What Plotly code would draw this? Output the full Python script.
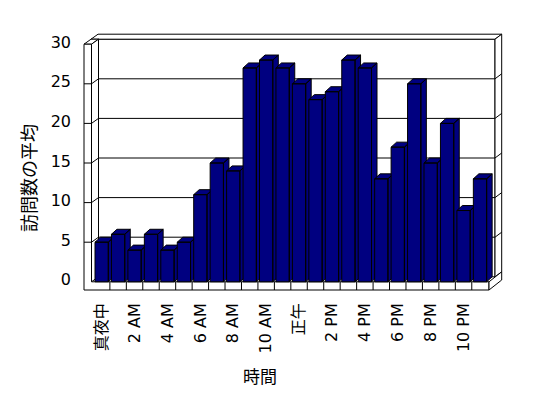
import numpy as np
import plotly.graph_objects as go

# ---------------- data ----------------
hours = list(range(24))
visits = [5, 6, 4, 6, 4, 5, 11, 15, 14, 27, 28, 27, 25, 23, 24, 28, 27, 13, 17, 25, 15, 20, 9, 13]
tick_positions = [0, 2, 4, 6, 8, 10, 12, 14, 16, 18, 20, 22]
tick_labels = ['真夜中', '2 AM', '4 AM', '6 AM', '8 AM', '10 AM', '正午',
               '2 PM', '4 PM', '6 PM', '8 PM', '10 PM']
y_ticks = [0, 5, 10, 15, 20, 25, 30]
x_title = '時間'
y_title = '訪問数の平均'

# ---------------- geometry (pixels) ----------------
W, H = 548, 398
PL, PR, PT, PB = 82, 506, 30, 292
X0PX, XSTEP = 101.65, 16.45     # pixel of category 0, pixels per category
Y0PX, YSTEP = 281.8, 7.92       # pixel of value 0 (front plane), pixels per unit


def X(px):
    return (px - X0PX) / XSTEP


def Y(py):
    return (Y0PX - py) / YSTEP


def ypx(v):
    return Y0PX - v * YSTEP


xr = [X(PL), X(PR)]
yr = [Y(PB), Y(PT)]

BW = 13.3 / XSTEP           # bar front width (category units)
DX = 5.5 / XSTEP            # bar depth offset
DY = 5.0 / YSTEP

NAVY = '#000080'
FONT = 'DejaVu Sans, Noto Sans CJK JP'
CJK = 'Noto Sans CJK JP'


def path(pts, close=True):
    s = 'M ' + ' L '.join(f'{X(a):.4f},{Y(b):.4f}' for a, b in pts)
    return s + (' Z' if close else '')


shapes = []


def add_poly(pts, fill='white'):
    shapes.append(dict(type='path', xref='x', yref='y', layer='below',
                       path=path(pts), fillcolor=fill,
                       line=dict(color='black', width=1)))


def add_line(p0, p1):
    shapes.append(dict(type='line', xref='x', yref='y', layer='below',
                       x0=X(p0[0]), y0=Y(p0[1]), x1=X(p1[0]), y1=Y(p1[1]),
                       line=dict(color='black', width=1)))


fy0 = ypx(0)
fy30 = ypx(30)
# back wall (inner face)
add_poly([(98.5, fy0 - 5), (495, fy0 - 5), (495, fy30 - 5), (98.5, fy30 - 5)])
# back wall top slab
add_poly([(91, fy30 - 5), (495, fy30 - 5), (501.7, fy30 - 10), (98, fy30 - 10)])
# back wall right end
add_poly([(495, fy30 - 5), (501.7, fy30 - 10), (501.7, fy0 - 10), (495, fy0 - 5)])
# left wall top
add_poly([(84, fy30), (91.5, fy30), (98.5, fy30 - 5), (91, fy30 - 5)])
# left wall inner face
add_poly([(91.5, fy30), (98.5, fy30 - 5), (98.5, fy0 - 5), (91.5, fy0)])
# left wall front face + floor front strip
add_poly([(84, fy30), (91.5, fy30), (91.5, fy0), (489, fy0), (489, 290), (84, 290)])
# floor right end
add_poly([(489, fy0), (489, 290), (501.7, 280), (501.7, fy0 - 10)])

# gridlines
for v in y_ticks[1:-1]:
    yy = ypx(v)
    add_line((84, yy), (91.5, yy))
    add_line((91.5, yy), (98.5, yy - 5))
    add_line((98.5, yy - 5), (495, yy - 5))
    add_line((495, yy - 5), (501.7, yy - 10))

# floor divisions between categories
for b in np.arange(0.5, len(hours) - 1, 1.0):
    shapes.append(dict(type='line', xref='x', yref='y', layer='below',
                       x0=b, x1=b, y0=0, y1=Y(290),
                       line=dict(color='black', width=1)))

fig = go.Figure()

# 3D bars: front, side, top faces from the data values
for h, v in zip(hours, visits):
    L, R = h - BW / 2, h + BW / 2
    xs = [L, R, R, L, L, None,
          R, R + DX, R + DX, R, R, None,
          L, R, R + DX, L + DX, L]
    ys = [0, 0, v, v, 0, None,
          0, DY, v + DY, v, 0, None,
          v, v, v + DY, v + DY, v]
    fig.add_trace(go.Scatter(x=xs, y=ys, mode='lines', fill='toself',
                             fillcolor=NAVY, line=dict(color='black', width=1),
                             hoverinfo='skip', showlegend=False))

fig.update_layout(
    width=W, height=H,
    margin=dict(l=PL, r=W - PR, t=PT, b=H - PB, pad=0),
    paper_bgcolor='white', plot_bgcolor='white',
    font=dict(family=FONT, size=15, color='black'),
    shapes=shapes,
    showlegend=False,
    xaxis=dict(range=xr, showgrid=False, zeroline=False, showline=False,
               tickmode='array', tickvals=tick_positions, ticktext=tick_labels,
               tickangle=-90, ticks='', ticklabelstandoff=7,
               tickfont=dict(family=FONT, size=16)),
    yaxis=dict(range=yr, showgrid=False, zeroline=False, showline=False,
               tickmode='array', tickvals=y_ticks, ticks='',
               ticklabelstandoff=10, ticklabelshift=-2,
               tickfont=dict(family=FONT, size=16)),
    annotations=[
        dict(text=y_title, xref='paper', yref='paper',
             x=(28 - PL) / (PR - PL), y=(PB - 178) / (PB - PT),
             xanchor='center', yanchor='middle', textangle=-90,
             showarrow=False, font=dict(family=CJK, size=18)),
        dict(text=x_title, xref='paper', yref='paper',
             x=(260 - PL) / (PR - PL), y=(PB - 376) / (PB - PT),
             xanchor='center', yanchor='middle',
             showarrow=False, font=dict(family=CJK, size=17)),
    ],
)

fig.write_html('out.html')
